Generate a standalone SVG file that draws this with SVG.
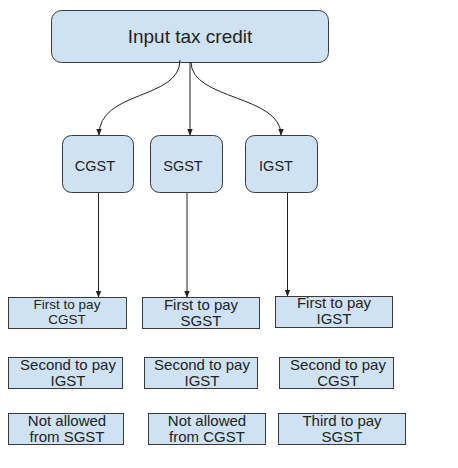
<svg xmlns="http://www.w3.org/2000/svg" width="458" height="468" viewBox="0 0 458 468">
<defs>
<style>
.b{fill:#cfe2f3;stroke:#3a3a3a;stroke-width:1}
.t{font-family:"Liberation Sans",Arial,sans-serif;fill:#222;text-anchor:middle}
.c{fill:none;stroke:#222;stroke-width:1}
</style>
<marker id="a" viewBox="0 0 10 10" refX="9" refY="5" markerWidth="7" markerHeight="7" orient="auto-start-reverse" markerUnits="userSpaceOnUse"><path d="M0,1 L10,5 L0,9 Z" fill="#222"/></marker>
</defs>
<rect width="458" height="468" fill="#fff"/>
<g id="itc"><rect class="b" x="51.5" y="10.5" width="277" height="52" rx="10"/><text class="t" x="190" y="43" font-size="19">Input tax credit</text></g>
<g id="cgst"><rect class="b" x="62.5" y="135.5" width="71" height="57" rx="9"/><text class="t" x="95" y="171" font-size="14.5">CGST</text></g>
<g id="sgst"><rect class="b" x="150.5" y="135.5" width="72" height="57" rx="9"/><text class="t" x="183" y="171" font-size="14.5">SGST</text></g>
<g id="igst"><rect class="b" x="245.5" y="135.5" width="72" height="57" rx="9"/><text class="t" x="276" y="171" font-size="14.5">IGST</text></g>
<g id="r1c1"><rect class="b" x="8.5" y="297.5" width="118" height="31"/><text class="t" font-size="13.5" x="67"><tspan x="67" y="309">First to pay</tspan><tspan x="67" y="324">CGST</tspan></text></g>
<g id="r1c2"><rect class="b" x="142.5" y="297.5" width="117" height="31"/><text class="t" font-size="15" x="201"><tspan x="201" y="310">First to pay</tspan><tspan x="201" y="326">SGST</tspan></text></g>
<g id="r1c3"><rect class="b" x="275.5" y="296.5" width="117" height="31"/><text class="t" font-size="15" x="334"><tspan x="334" y="308">First to pay</tspan><tspan x="334" y="324">IGST</tspan></text></g>
<g id="r2c1"><rect class="b" x="8.5" y="357.5" width="114" height="31"/><text class="t" font-size="15" x="68"><tspan x="68" y="370">Second to pay</tspan><tspan x="68" y="386">IGST</tspan></text></g>
<g id="r2c2"><rect class="b" x="144.5" y="357.5" width="113" height="31"/><text class="t" font-size="15" x="202"><tspan x="202" y="370">Second to pay</tspan><tspan x="202" y="386">IGST</tspan></text></g>
<g id="r2c3"><rect class="b" x="279.5" y="357.5" width="114" height="31"/><text class="t" font-size="15" x="338"><tspan x="338" y="370">Second to pay</tspan><tspan x="338" y="386">CGST</tspan></text></g>
<g id="r3c1"><rect class="b" x="8.5" y="413.5" width="115" height="31"/><text class="t" font-size="15" x="67"><tspan x="67" y="426">Not allowed</tspan><tspan x="67" y="442">from SGST</tspan></text></g>
<g id="r3c2"><rect class="b" x="148.5" y="413.5" width="117" height="31"/><text class="t" font-size="15" x="207"><tspan x="207" y="426">Not allowed</tspan><tspan x="207" y="442">from CGST</tspan></text></g>
<g id="r3c3"><rect class="b" x="278.5" y="413.5" width="127" height="31"/><text class="t" font-size="15" x="342"><tspan x="342" y="426">Third to pay</tspan><tspan x="342" y="442">SGST</tspan></text></g>
<g id="connectors">
<path class="c" d="M180,60 C180,100 99,90 99,135" marker-end="url(#a)"/>
<path class="c" d="M190,62 L190,135" marker-end="url(#a)"/>
<path class="c" d="M191,62 C191,100 281,95 281,135" marker-end="url(#a)"/>
<path class="c" d="M98.5,193 L98.5,297" marker-end="url(#a)"/>
<path class="c" d="M187,193 L187,297" marker-end="url(#a)"/>
<path class="c" d="M287.5,193 L287.5,296" marker-end="url(#a)"/>
</g>
</svg>
